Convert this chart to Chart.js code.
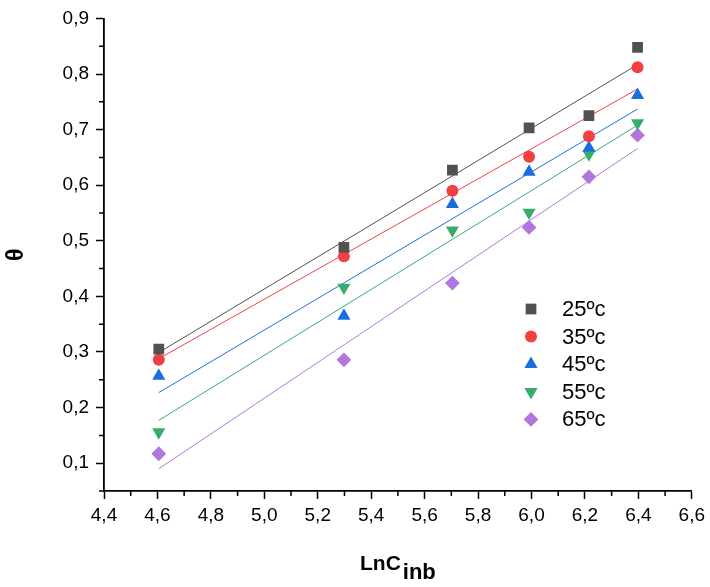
<!DOCTYPE html>
<html>
<head>
<meta charset="utf-8">
<script src="https://cdn.jsdelivr.net/npm/chart.js@4.4.1/dist/chart.umd.min.js"></script>
<style>
  html, body { margin: 0; padding: 0; background: #fff; }
  #wrap { width: 710px; height: 587px; }
</style>
</head>
<body>
<div id="wrap"><canvas id="chart" width="710" height="587"></canvas></div>
<script>
// ln of inhibitor concentration
var xVals = [4.605, 5.298, 5.704, 5.991, 6.215, 6.397];

// surface coverage per temperature
var t25 = [0.305, 0.488, 0.627, 0.703, 0.725, 0.848];
var t35 = [0.286, 0.472, 0.590, 0.651, 0.688, 0.812];
var t45 = [0.257, 0.365, 0.566, 0.624, 0.667, 0.762];
var t55 = [0.156, 0.416, 0.519, 0.551, 0.656, 0.712];
var t65 = [0.117, 0.286, 0.424, 0.524, 0.615, 0.690];

// fitted line end points
var fitX = [4.605, 6.397];
var fit25 = [0.299, 0.817];
var fit35 = [0.288, 0.773];
var fit45 = [0.227, 0.737];
var fit55 = [0.177, 0.708];
var fit65 = [0.090, 0.666];

var seriesNames = ['25ºc', '35ºc', '45ºc', '55ºc', '65ºc'];
var colors = ['#515151', '#F14040', '#1A6FDF', '#37AD6B', '#B177DE'];

var xTicks = [4.4, 4.6, 4.8, 5.0, 5.2, 5.4, 5.6, 5.8, 6.0, 6.2, 6.4, 6.6];
var yTicks = [0.1, 0.2, 0.3, 0.4, 0.5, 0.6, 0.7, 0.8, 0.9];
var xMinor = [4.5, 4.7, 4.9, 5.1, 5.3, 5.5, 5.7, 5.9, 6.1, 6.3, 6.5];
var yMinor = [0.05, 0.15, 0.25, 0.35, 0.45, 0.55, 0.65, 0.75, 0.85];

var pointStyles = ['rect', 'circle', 'triangle', 'triangle', 'rectRot'];
var pointRadii = [7.6, 6, 7.6, 7.6, 7.4];
var pointRots = [0, 0, 0, 180, 0];

function pairs(xs, ys) {
    return xs.map(function (x, i) { return { x: x, y: ys[i] }; });
}

var allSeries = [t25, t35, t45, t55, t65];
var allFits = [fit25, fit35, fit45, fit55, fit65];

var datasets = [];
// fit lines first so markers sit on top
allFits.forEach(function (f, i) {
    datasets.push({
        type: 'line',
        label: 'fit ' + seriesNames[i],
        data: pairs(fitX, f),
        borderColor: colors[i],
        borderWidth: 1,
        pointRadius: 0,
        fill: false,
        order: 2
    });
});
allSeries.forEach(function (s, i) {
    datasets.push({
        type: 'scatter',
        label: seriesNames[i],
        data: pairs(xVals, s),
        backgroundColor: colors[i],
        borderColor: colors[i],
        borderWidth: 0,
        pointStyle: pointStyles[i],
        pointRadius: pointRadii[i],
        pointRotation: pointRots[i],
        order: 1
    });
});

function commaFmt(v) {
    return Number(v).toFixed(1).replace('.', ',');
}

var FONT = "'Liberation Sans', Arial, sans-serif";

var extrasPlugin = {
    id: 'extras',
    afterDraw: function (chart) {
        var ctx = chart.ctx;
        var xs = chart.scales.x, ys = chart.scales.y;
        ctx.save();
        // minor ticks
        ctx.strokeStyle = '#000';
        ctx.lineWidth = 1.5;
        ctx.beginPath();
        xMinor.forEach(function (v) {
            var px = xs.getPixelForValue(v);
            ctx.moveTo(px, xs.top);
            ctx.lineTo(px, xs.top + 5);
        });
        yMinor.forEach(function (v) {
            var py = ys.getPixelForValue(v);
            ctx.moveTo(ys.right, py);
            ctx.lineTo(ys.right - 5, py);
        });
        ctx.stroke();

        // legend
        var lx = 531, ly = 309, step = 27.6;
        ctx.textBaseline = 'middle';
        ctx.textAlign = 'left';
        ctx.font = '22px ' + FONT;
        seriesNames.forEach(function (name, i) {
            var y = ly + i * step;
            ctx.fillStyle = colors[i];
            ctx.strokeStyle = colors[i];
            Chart.helpers.drawPoint(ctx, {
                pointStyle: pointStyles[i],
                radius: pointRadii[i],
                rotation: pointRots[i],
                borderWidth: 0
            }, lx, y);
            ctx.fillStyle = '#000';
            ctx.fillText(name, 562, y + 1);
        });

        // y title
        var ca = chart.chartArea;
        ctx.save();
        ctx.translate(17, (ca.top + ca.bottom) / 2);
        ctx.rotate(-Math.PI / 2);
        ctx.textAlign = 'center';
        ctx.textBaseline = 'middle';
        ctx.font = 'bold 23px ' + FONT;
        ctx.fillStyle = '#000';
        ctx.fillText('θ', 0, 0);
        ctx.restore();

        // x title with subscript
        ctx.textBaseline = 'alphabetic';
        ctx.fillStyle = '#000';
        var mainFont = 'bold 21px ' + FONT, subFont = 'bold 22px ' + FONT;
        ctx.font = mainFont;
        var w1 = ctx.measureText('LnC').width;
        ctx.font = subFont;
        var w2 = ctx.measureText('inb').width;
        var sx = (ca.left + ca.right) / 2 - (w1 + w2 + 2) / 2;
        var base = 570;
        ctx.font = mainFont;
        ctx.fillText('LnC', sx, base);
        ctx.font = subFont;
        ctx.fillText('inb', sx + w1 + 2, base + 9);
        ctx.restore();
    }
};

new Chart(document.getElementById('chart'), {
    type: 'scatter',
    data: { datasets: datasets },
    options: {
        responsive: false,
        animation: false,
        layout: { padding: { left: 0, top: 17, right: 15, bottom: 0 } },
        plugins: {
            legend: { display: false },
            tooltip: { enabled: false }
        },
        scales: {
            x: {
                type: 'linear',
                min: 4.4,
                max: 6.6,
                afterBuildTicks: function (scale) {
                    scale.ticks = xTicks.map(function (v) { return { value: v }; });
                },
                afterFit: function (scale) { scale.height = 96; },
                grid: { drawOnChartArea: false, drawTicks: true, tickLength: 8, tickWidth: 1.5, tickColor: '#000' },
                border: { display: true, color: '#000', width: 1.8 },
                ticks: {
                    color: '#000',
                    padding: 5,
                    maxRotation: 0,
                    autoSkip: false,
                    font: { family: FONT, size: 19 },
                    callback: function (v) { return commaFmt(v); }
                }
            },
            y: {
                type: 'linear',
                min: 0.05,
                max: 0.9,
                afterBuildTicks: function (scale) {
                    scale.ticks = yTicks.map(function (v) { return { value: v }; });
                },
                afterFit: function (scale) { scale.width = 104; },
                grid: { drawOnChartArea: false, drawTicks: true, tickLength: 8, tickWidth: 1.5, tickColor: '#000' },
                border: { display: true, color: '#000', width: 1.8 },
                ticks: {
                    color: '#000',
                    padding: 7,
                    autoSkip: false,
                    font: { family: FONT, size: 19 },
                    callback: function (v) { return commaFmt(v); }
                }
            }
        }
    },
    plugins: [extrasPlugin]
});
</script>
</body>
</html>
